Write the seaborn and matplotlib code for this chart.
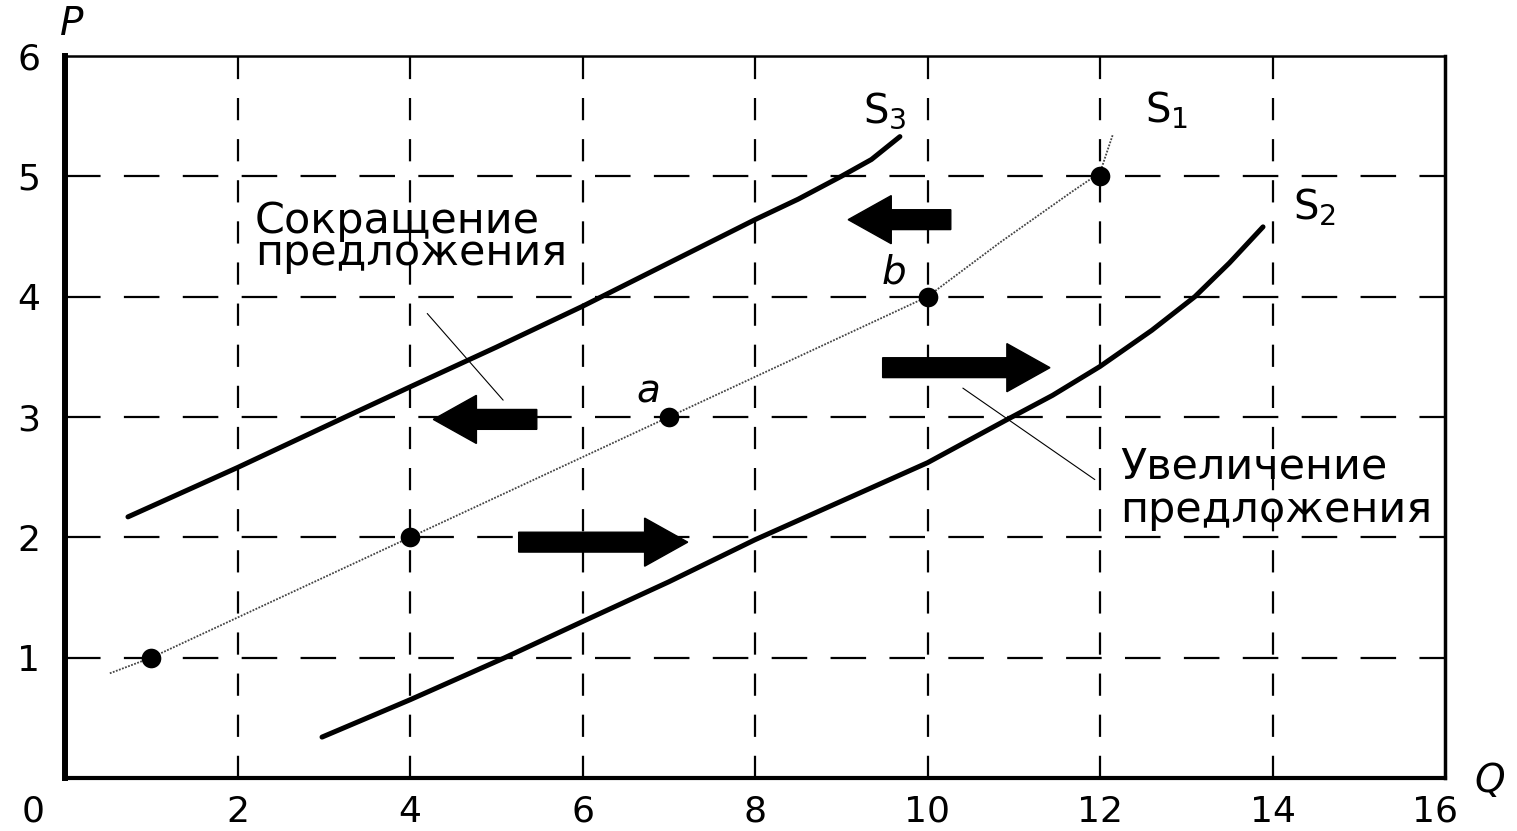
import matplotlib
matplotlib.use("Agg")
import matplotlib.pyplot as plt
import seaborn as sns
import pandas as pd
from matplotlib.transforms import ScaledTranslation

# ---- data ----
s1_q = [0.52, 1, 4, 7, 10, 10.84, 11.69, 12, 12.15]
s1_p = [0.87, 1, 2, 3, 4, 4.45, 4.88, 5.03, 5.35]

s2_q = [2.98, 4, 5.1, 6, 7, 8, 9, 10, 10.9, 11.45, 12, 12.6, 13.1, 13.5, 13.89]
s2_p = [0.34, 0.65, 1.0, 1.3, 1.63, 1.98, 2.3, 2.62, 2.97, 3.18, 3.42, 3.72, 4.0, 4.28, 4.58]

s3_q = [0.73, 2, 3.22, 4, 5, 6, 7, 8, 8.5, 9, 9.35, 9.68]
s3_p = [2.17, 2.58, 2.99, 3.25, 3.58, 3.92, 4.28, 4.64, 4.81, 5.0, 5.14, 5.33]

pts_q = [1, 4, 7, 10, 12]
pts_p = [1, 2, 3, 4, 5]

x_ticks = [0, 2, 4, 6, 8, 10, 12, 14, 16]
y_ticks = [1, 2, 3, 4, 5, 6]

# arrows: (tail_q, tip_q, p)
arrows_left = [(10.27, 9.08, 4.64), (5.47, 4.27, 2.98)]
arrows_right = [(9.48, 11.42, 3.41), (5.26, 7.22, 1.96)]

label_decrease = "Сокращение\nпредложения"
label_increase = "Увеличение\nпредложения"

sns.set_style("white")
plt.rcParams["font.family"] = ["DejaVu Sans"]
plt.rcParams["mathtext.default"] = "regular"
plt.rcParams["text.color"] = "black"
plt.rcParams["xtick.color"] = "black"
plt.rcParams["ytick.color"] = "black"

fig = plt.figure(figsize=(15.17, 8.31), dpi=100)
ax = fig.add_axes([65 / 1517, 1 - 778 / 831, (1445 - 65) / 1517, (778 - 56) / 831])

# grid
for q in x_ticks[1:-1]:
    ax.axvline(q, color="black", lw=1.6, linestyle=(0, (10, 8.5)), zorder=1)
for p in y_ticks[:-1]:
    ax.axhline(p, color="black", lw=1.6, linestyle=(0, (16, 10.5)), zorder=1)

df1 = pd.DataFrame({"Q": s1_q, "P": s1_p})
df2 = pd.DataFrame({"Q": s2_q, "P": s2_p})
df3 = pd.DataFrame({"Q": s3_q, "P": s3_p})
sns.lineplot(data=df1, x="Q", y="P", ax=ax, color="#444444", lw=1.3,
             linestyle=(0, (1, 0.8)), zorder=3)
sns.lineplot(data=df2, x="Q", y="P", ax=ax, color="black", lw=3.6, zorder=3)
sns.lineplot(data=df3, x="Q", y="P", ax=ax, color="black", lw=3.6, zorder=3)
sns.scatterplot(x=pts_q, y=pts_p, ax=ax, color="black", s=200, edgecolor="black",
                linewidth=0, zorder=4)

for tail, tip, p in arrows_left + arrows_right:
    ax.arrow(tail, p, tip - tail, 0, width=0.165, head_width=0.40, head_length=0.50,
             length_includes_head=True, color="black", zorder=4)

# leader lines
ax.plot([4.2, 5.08], [3.86, 3.14], color="black", lw=0.8, zorder=3)
ax.plot([10.41, 11.94], [3.24, 2.48], color="black", lw=0.8, zorder=3)

# texts (baseline of the last line)
fs = 31
ax.text(2.2, 4.26, label_decrease, fontsize=fs, ha="left", va="baseline",
        linespacing=0.72, zorder=5)
ax.text(12.23, 2.13, label_increase, fontsize=fs, ha="left", va="baseline",
        linespacing=1.05, zorder=5)

ax.text(9.25, 5.45, r"S$_{3}$", fontsize=29, ha="left", va="baseline")
ax.text(12.52, 5.45, r"S$_{1}$", fontsize=29, ha="left", va="baseline")
ax.text(14.24, 4.64, r"S$_{2}$", fontsize=29, ha="left", va="baseline")
ax.text(6.63, 3.12, "a", fontsize=28, style="italic", ha="left", va="baseline")
ax.text(9.47, 4.11, "b", fontsize=28, style="italic", ha="left", va="baseline")

fig.text(72 / 1517, 1 - 24 / 831, "P", fontsize=28, style="italic", ha="center", va="center")
fig.text(1490 / 1517, 1 - 781 / 831, "Q", fontsize=28, style="italic", ha="center", va="center")

ax.set_xlim(0, 16)
ax.set_ylim(0, 6)
ax.set_xticks(x_ticks)
ax.set_yticks(y_ticks)
ax.set_xticklabels([str(v) for v in x_ticks])
ax.set_yticklabels([str(v) for v in y_ticks])
ax.tick_params(axis="both", length=0, labelsize=26, labelcolor="black")
ax.tick_params(axis="x", pad=12)
ax.tick_params(axis="y", pad=18)
ax.set_xlabel("")
ax.set_ylabel("")
lbl0 = ax.get_xticklabels()[0]
lbl0.set_transform(lbl0.get_transform() + ScaledTranslation(-0.32, 0, fig.dpi_scale_trans))
lbl16 = ax.get_xticklabels()[-1]
lbl16.set_transform(lbl16.get_transform() + ScaledTranslation(-0.1, 0, fig.dpi_scale_trans))

for side, lw in [("left", 4.3), ("bottom", 3.0), ("top", 1.8), ("right", 2.5)]:
    ax.spines[side].set_visible(True)
    ax.spines[side].set_color("black")
    ax.spines[side].set_linewidth(lw)

fig.savefig("out.png", dpi=100, facecolor="white")
